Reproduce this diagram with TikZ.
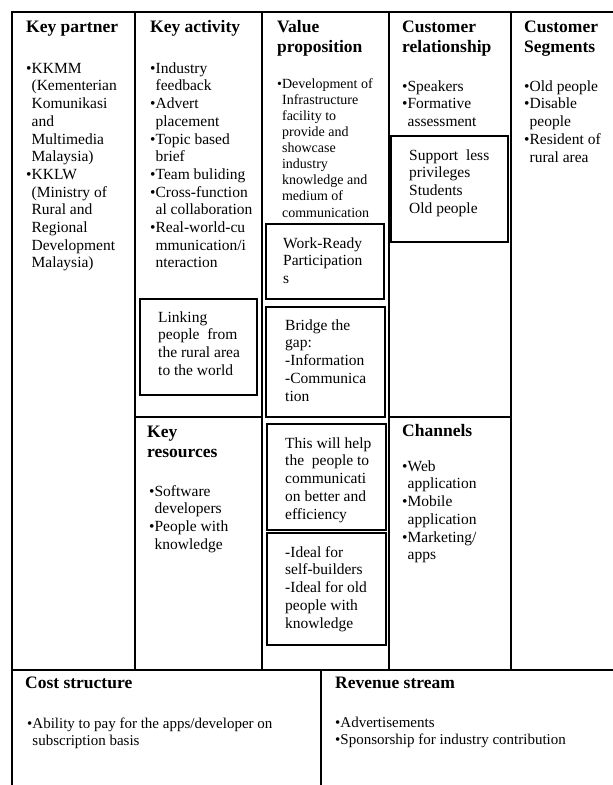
\documentclass[tikz,border=0pt]{standalone}
\usepackage{fontspec}
\setmainfont{Liberation Serif}
\newcommand\bodyf{\fontsize{15.5}{17.7}\selectfont}
\newcommand\smallf{\fontsize{14}{16.1}\selectfont}
\newcommand\btmf{\fontsize{15}{17}\selectfont}
\newcommand\headf{\fontsize{17.5}{20.5}\selectfont\bfseries}
\newcommand\fstrut{\rule{0pt}{13pt}}
\newcommand\bu{•}
\newcommand\hi{\hphantom{•}}
\tikzset{
  rulel/.style={line width=2pt},
  boxr/.style={draw, line width=2pt, inner sep=0pt, anchor=north west},
  txt/.style={anchor=north west, inner sep=0pt, align=left, font=\bodyf},
  sml/.style={anchor=north west, inner sep=0pt, align=left, font=\smallf},
  hdr/.style={anchor=north west, inner sep=0pt, align=left, font=\headf},
  btm/.style={anchor=north west, inner sep=0pt, align=left, font=\btmf},
}
\begin{document}
\begin{tikzpicture}[x=1pt,y=-1pt]
\useasboundingbox (0,0) rectangle (613,785);
% grid lines
\draw[rulel] (12,786) -- (12,12) -- (615,12);
\draw[rulel] (135,12) -- (135,670);
\draw[rulel] (262,12) -- (262,670);
\draw[rulel] (389,12) -- (389,670);
\draw[rulel] (511,12) -- (511,670);
\draw[rulel] (12,670) -- (615,670);
\draw[rulel] (321,670) -- (321,786);
\draw[rulel] (135,417) -- (262,417);
\draw[rulel] (389,417) -- (511,417);
% inner boxes
\node[boxr, minimum width=117pt, minimum height=106pt] (supbox) at (390,135) {};
\node[boxr, minimum width=118pt, minimum height=75pt] (wrbox) at (265,223) {};
\node[boxr, minimum width=119pt, minimum height=110pt] (brbox) at (265,306) {};
\node[boxr, minimum width=117pt, minimum height=96pt] (lkbox) at (139,298) {};
\node[boxr, minimum width=119pt, minimum height=106pt] (hpbox) at (266,423) {};
\node[boxr, minimum width=119pt, minimum height=112pt] (idbox) at (266,532) {};
% headers
\node[hdr] (hkp) at (26,19) {\fstrut Key partner};
\node[hdr] (hka) at (150,19) {\fstrut Key activity};
\node[hdr] (hvp) at (277,19) {\fstrut Value\\proposition};
\node[hdr] (hcr) at (402,19) {\fstrut Customer\\relationship};
\node[hdr] (hcs) at (524,19) {\fstrut Customer\\Segments};
\node[hdr] (hkr) at (147,424) {\fstrut Key\\resources};
\node[hdr] (hch) at (402,423) {\fstrut Channels};
\node[hdr] (hcost) at (25,675) {\fstrut Cost structure};
\node[hdr] (hrev) at (335,675) {\fstrut Revenue stream};
% column texts
\node[txt] (tkp) at (26,60) {\fstrut\bu KKMM\\ \hi(Kementerian\\ \hi Komunikasi\\ \hi and\\ \hi Multimedia\\ \hi Malaysia)\\ \bu KKLW\\ \hi(Ministry of\\ \hi Rural and\\ \hi Regional\\ \hi Development\\ \hi Malaysia)};
\node[txt] (tka) at (150,60) {\fstrut\bu Industry\\ \hi feedback\\ \bu Advert\\ \hi placement\\ \bu Topic based\\ \hi brief\\ \bu Team buliding\\ \bu Cross-function\\ \hi al collaboration\\ \bu Real-world-cu\\ \hi mmunication/i\\ \hi nteraction};
\node[sml] (tvp) at (277,75) {\fstrut\bu Development of\\ \hi Infrastructure\\ \hi facility to\\ \hi provide and\\ \hi showcase\\ \hi industry\\ \hi knowledge and\\ \hi medium of\\ \hi communication};
\node[txt] (tcr) at (402,78) {\fstrut\bu Speakers\\ \bu Formative\\ \hi assessment};
\node[txt] (tcs) at (524,78) {\fstrut\bu Old people\\ \bu Disable\\ \hi people\\ \bu Resident of\\ \hi rural area};
\node[txt] (tkr) at (149,483) {\fstrut\bu Software\\ \hi developers\\ \bu People with\\ \hi knowledge};
\node[txt] (tch) at (402,458) {\fstrut\bu Web\\ \hi application\\ \bu Mobile\\ \hi application\\ \bu Marketing/\\ \hi apps};
% box texts
\node[txt] (tsup) at (409,147) {\fstrut Support\ \ less\\ privileges\\ Students\\ Old people};
\node[txt] (twr) at (283,235) {\fstrut Work-Ready\\ Participation\\ s};
\node[txt] (tbr) at (285,317) {\fstrut Bridge the\\ gap:\\ -Information\\ -Communica\\ tion};
\node[txt] (tlk) at (158,309) {\fstrut Linking\\ people\ \ from\\ the rural area\\ to the world};
\node[txt] (thp) at (285,435) {\fstrut This will help\\ the\ \ people to\\ communicati\\ on better and\\ efficiency};
\node[txt] (tid) at (285,544) {\fstrut -Ideal for\\ self-builders\\ -Ideal for old\\ people with\\ knowledge};
% bottom texts
\node[btm] (tcost) at (27,715) {\fstrut\bu Ability to pay for the apps/developer on\\ \hi subscription basis};
\node[btm] (trev) at (335,714) {\fstrut\bu Advertisements\\ \bu Sponsorship for industry contribution};
\end{tikzpicture}
\end{document}
